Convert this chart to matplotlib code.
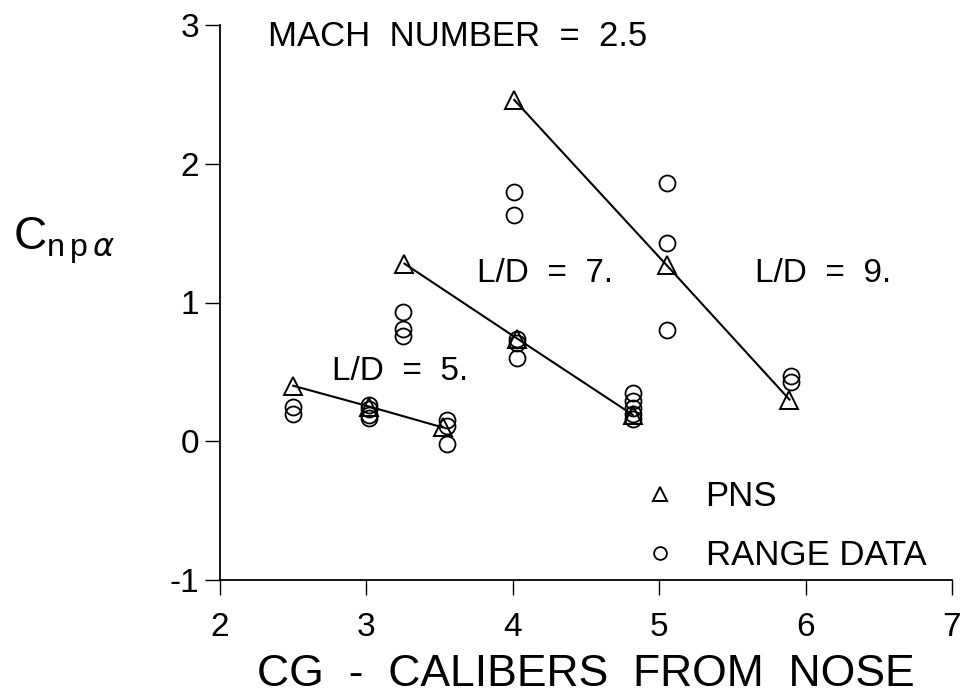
import matplotlib
matplotlib.use("Agg")
import matplotlib.pyplot as plt

plt.rcParams['font.family'] = ['Liberation Sans', 'DejaVu Sans']
plt.rcParams['axes.unicode_minus'] = False
plt.rcParams['mathtext.fontset'] = 'custom'
plt.rcParams['mathtext.rm'] = 'Liberation Sans'
plt.rcParams['mathtext.it'] = 'DejaVu Sans:italic'

# ---- data ----
# PNS predictions, one group per L/D (connected by a line)
pns_ld5_x = [2.50, 3.02, 3.52]
pns_ld5_y = [0.40, 0.25, 0.10]
pns_ld7_x = [3.26, 4.03, 4.82]
pns_ld7_y = [1.28, 0.74, 0.19]
pns_ld9_x = [4.01, 5.05, 5.89]
pns_ld9_y = [2.46, 1.27, 0.30]

# Range data
range_x = [2.50, 2.50,
           3.02, 3.02, 3.02, 3.02,
           3.55, 3.55, 3.55,
           3.25, 3.25, 3.25,
           4.03, 4.03, 4.03,
           4.82, 4.82, 4.82, 4.82, 4.82,
           4.01, 4.01,
           5.05, 5.05, 5.05,
           5.90, 5.90]
range_y = [0.25, 0.20,
           0.26, 0.23, 0.19, 0.17,
           0.15, 0.11, -0.02,
           0.93, 0.81, 0.76,
           0.74, 0.71, 0.60,
           0.35, 0.29, 0.24, 0.20, 0.16,
           1.80, 1.63,
           1.86, 1.43, 0.80,
           0.47, 0.43]

x_ticks = [2, 3, 4, 5, 6, 7]
y_ticks = [-1, 0, 1, 2, 3]

fig = plt.figure(figsize=(9.65, 6.97), dpi=100)
ax = fig.add_axes([220 / 965, 1 - 580 / 697, (952 - 220) / 965, (580 - 25) / 697])

for gx, gy in [(pns_ld5_x, pns_ld5_y), (pns_ld7_x, pns_ld7_y), (pns_ld9_x, pns_ld9_y)]:
    ax.plot(gx, gy, color='black', lw=1.5, zorder=2)

pns_x = pns_ld5_x + pns_ld7_x + pns_ld9_x
pns_y = pns_ld5_y + pns_ld7_y + pns_ld9_y
h_pns, = ax.plot(pns_x, pns_y, linestyle='none', marker='^', ms=12.5,
                 mfc='none', mec='black', mew=1.4, label='PNS', zorder=3)
h_rng, = ax.plot(range_x, range_y, linestyle='none', marker='o', ms=11.5,
                 mfc='none', mec='black', mew=1.3, label='RANGE DATA', zorder=3)

ax.set_xlim(2, 7)
ax.set_ylim(-1, 3)
ax.set_xticks(x_ticks)
ax.set_yticks(y_ticks)
ax.set_xticklabels([str(v) for v in x_ticks])
ax.set_yticklabels([str(v) for v in y_ticks])

for s in ['top', 'right']:
    ax.spines[s].set_visible(False)
for s in ['left', 'bottom']:
    ax.spines[s].set_linewidth(1.3)
ax.tick_params(axis='both', direction='out', length=11, width=1.0, labelsize=24)
ax.tick_params(axis='x', pad=12)
ax.tick_params(axis='y', pad=4)

ax.set_xlabel('CG  -  CALIBERS  FROM  NOSE', fontsize=32, labelpad=8)
fig.text(13 / 965, 1 - 250 / 697, r'$\mathrm{C}_{\mathrm{n\,p}\,\alpha}$', fontsize=33,
         ha='left', va='baseline')

ax.text(2.33, 2.92, 'MACH  NUMBER  =  2.5', fontsize=25, ha='left', va='center')
ax.text(2.69 + 0.54, 0.50, 'L/D  =  5.', fontsize=24, ha='center', va='center')
ax.text(3.68 + 0.54, 1.21, 'L/D  =  7.', fontsize=24, ha='center', va='center')
ax.text(5.58 + 0.54, 1.21, 'L/D  =  9.', fontsize=24, ha='center', va='center')

leg = ax.legend(handles=[h_pns, h_rng], loc='upper left',
                bbox_to_anchor=((643 - 220) / 732, (580 - 480) / 555),
                frameon=False, fontsize=25, handlelength=1.0, handletextpad=0.8,
                borderpad=0, borderaxespad=0, labelspacing=0.74, markerscale=0.8)

fig.savefig('out.png', dpi=100)
